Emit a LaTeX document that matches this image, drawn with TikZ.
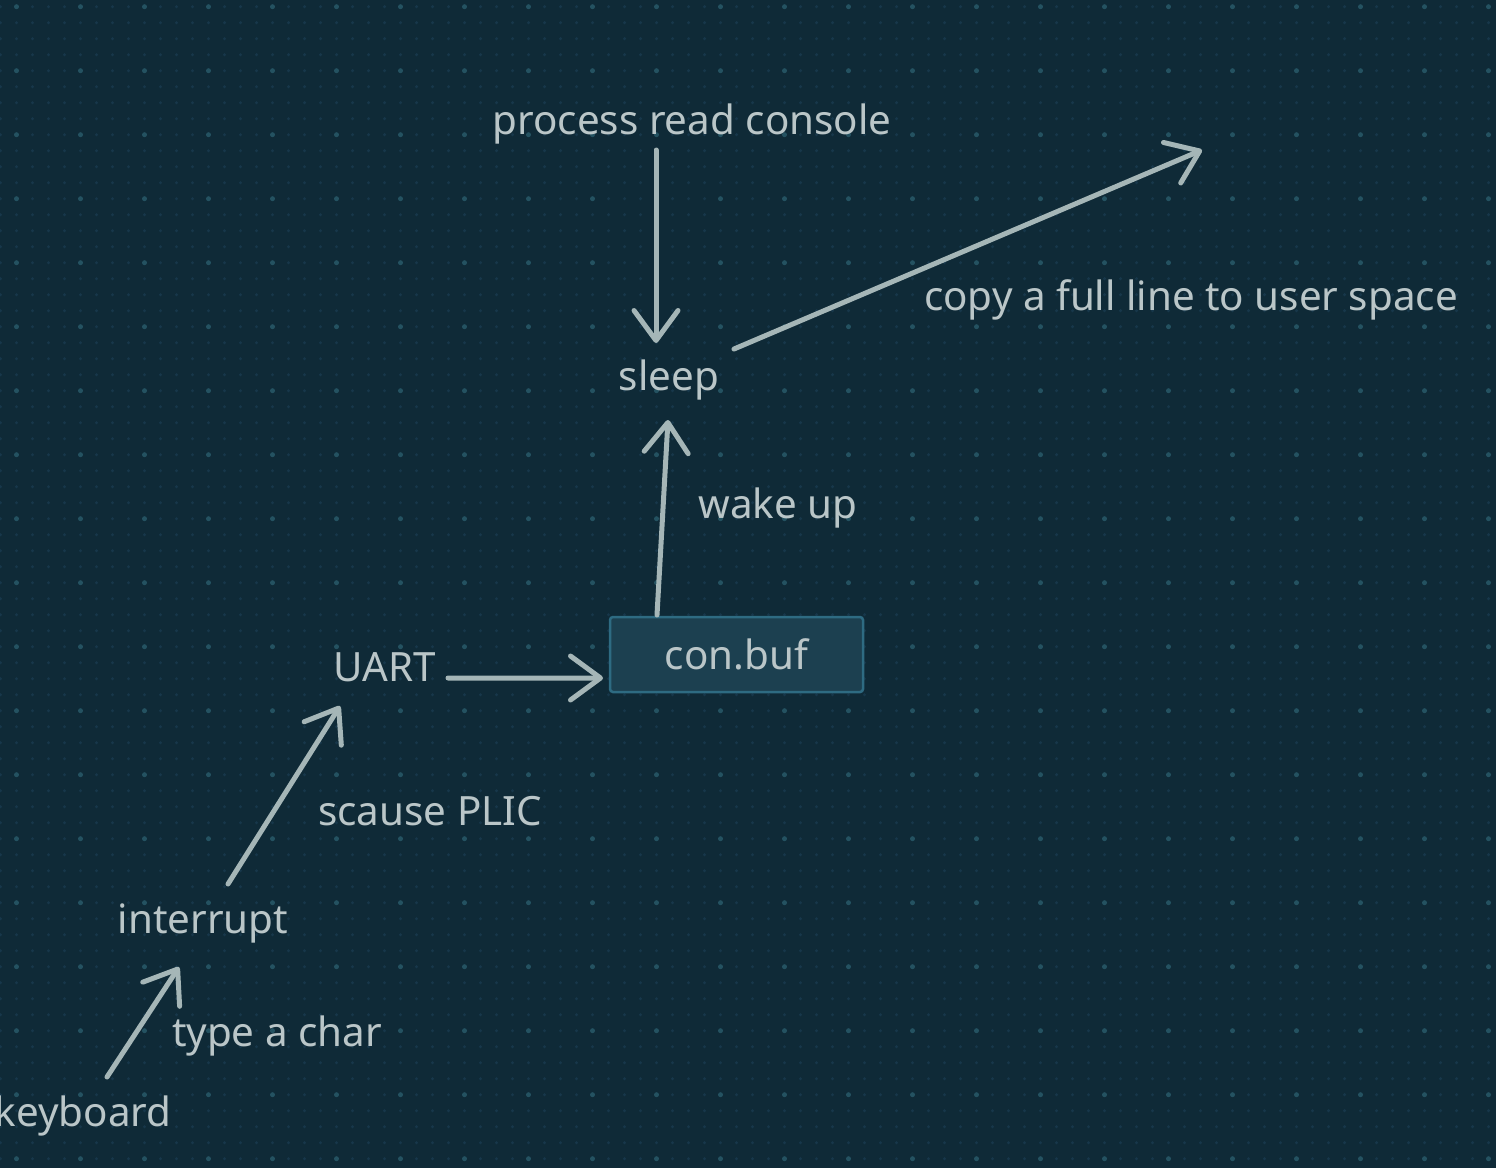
\documentclass[tikz,border=0pt]{standalone}
\usepackage{fontspec}
\setmainfont{Noto Sans}
\usetikzlibrary{arrows.meta,calc}
\definecolor{bgc}{HTML}{0F2A37}
\definecolor{dotc}{HTML}{17374A}
\definecolor{dotb}{HTML}{245261}
\definecolor{txtc}{HTML}{BAC6C8}
\definecolor{arrc}{HTML}{A5B6B7}
\definecolor{boxf}{HTML}{1C4050}
\definecolor{boxd}{HTML}{2E6B82}
\tikzset{
  lbl/.style={text=txtc, font=\fontsize{40.5}{46}\selectfont, inner sep=0pt},
  bufbox/.style={lbl, draw=boxd, fill=boxf, line width=2.5bp, rounded corners=3bp, minimum width=253bp, minimum height=75bp},
  conn/.style={draw=arrc, line width=5bp, line cap=round, line join=round, -{Straight Barb[length=30bp, width=44bp, line cap=round, line join=round]}}
}
\begin{document}
\begin{tikzpicture}[x=1bp,y=-1bp]
\fill[bgc] (0,0) rectangle (1496,1168);
\useasboundingbox (0,0) rectangle (1496,1168);
\foreach \i in {0,...,93} \foreach \j in {0,...,72} \fill[dotc] (0.5+16*\i, 6.7+16*\j) circle (1.7bp);
\foreach \i in {0,...,23} \foreach \j in {0,...,18} \fill[dotb] (16.5+64*\i, 6.7+64*\j) circle (2.5bp);

\node[lbl] (proc) at (692,124) {process read console};
\node[lbl] (sleep) at (669,380) {sleep};
\node[lbl] (copy) at (1191,300) {copy a full line to user space};
\node[lbl] (wake) at (778,508) {wake up};
\node[bufbox] (buf) at (736.5,654.5) {con.buf};
\node[lbl] (uart) at (385,667) {UART};
\node[lbl] (plic) at (430,811) {scause PLIC};
\node[lbl] (intr) at (203,923) {interrupt};
\node[lbl] (type) at (277,1036) {type a char};
\node[lbl] (kbd) at (83,1116) {keyboard};
\coordinate (user) at (1202,150);

\draw[conn] ($(proc)+(-36,26)$) -- ($(sleep)+(-13,-37)$);
\draw[conn] ($(sleep)+(65,-31)$) -- (user);
\draw[conn] ($(buf)+(-79.5,-39.5)$) -- ($(sleep)+(-1,40)$);
\draw[conn] ($(uart)+(63,11)$) -- ($(buf)+(-133.5,23.5)$);
\draw[conn] ($(intr)+(25,-39)$) -- ($(uart)+(-45,39)$);
\draw[conn] ($(kbd)+(24,-39)$) -- ($(intr)+(-24,44)$);
\end{tikzpicture}
\end{document}
